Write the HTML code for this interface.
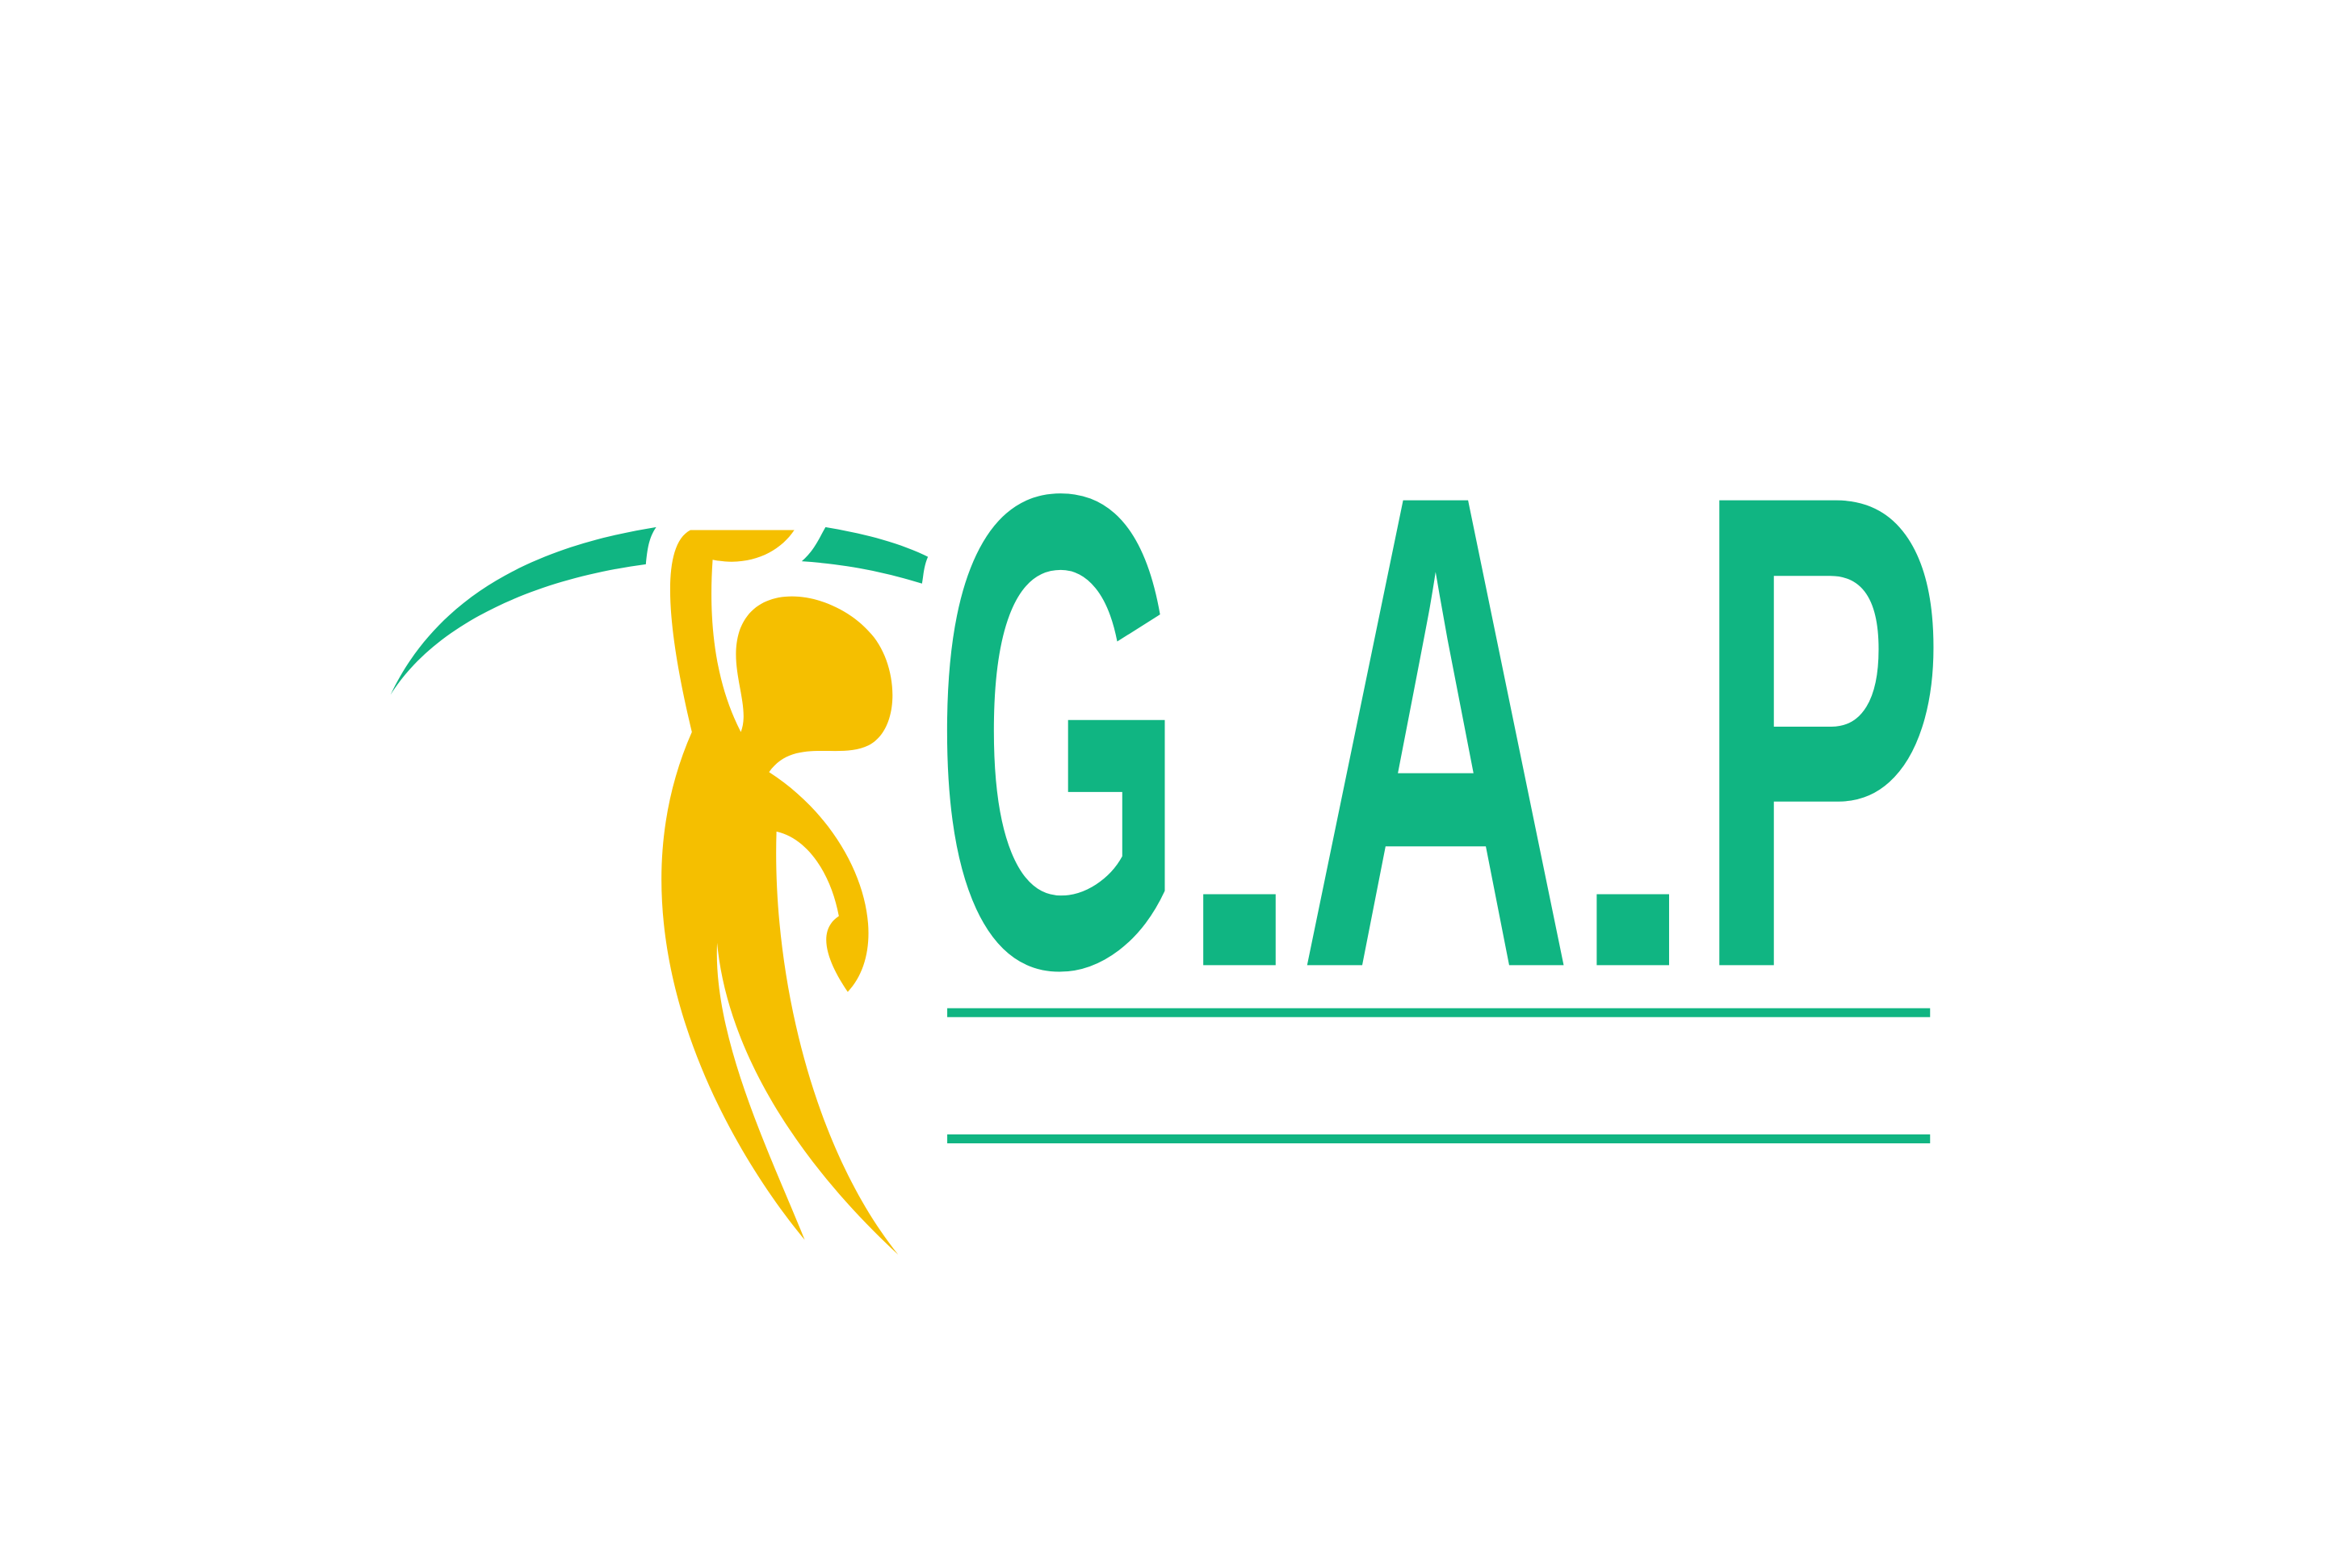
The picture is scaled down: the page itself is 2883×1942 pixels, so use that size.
<!DOCTYPE html>
<html><head><meta charset="utf-8"><style>
html,body{margin:0;padding:0;background:#fff;}
svg{display:block;}
</style></head><body>
<svg width="2883" height="1942" viewBox="0 0 1568 1056" preserveAspectRatio="none" xmlns="http://www.w3.org/2000/svg">
<rect width="1568" height="1056" fill="#fff"/>
<g fill="#10B582">
<path d="M263,468 C300,390 380,365 442,355 C437,362 436,370 435,380 C360,390 293,420 263,468 Z"/>
<path d="M556,355 C580,359 605,365 625,375 C622,382 622,388 621,393 C595,385 570,380 540,378 C548,371 551,364 556,355 Z"/>
</g>
<path fill="#F5BF00" d="M465,357 L535,357 C525,372 505,382 480,377 C477,420 482,460 499,493 C506,475 490,450 498,425 C510,390 560,398 585,425 C605,445 608,490 585,502 C565,512 535,496 518,520 C580,560 602,635 571,668 C560,652 548,628 565,617 C560,590 545,565 523,560 C520,650 545,770 605,845 C540,785 490,710 483,635 C480,700 520,780 542,835 C480,760 410,620 466,493 C455,447 440,370 465,357 Z"/>
<g font-family="'Liberation Sans',sans-serif" font-weight="bold" font-size="455" fill="#10B582">
<text x="629" y="650" textLength="169" lengthAdjust="spacingAndGlyphs">G</text>
<text x="787" y="650" textLength="96" lengthAdjust="spacingAndGlyphs" font-size="321">.</text>
<text x="874" y="650" textLength="186" lengthAdjust="spacingAndGlyphs">A</text>
<text x="1052" y="650" textLength="96" lengthAdjust="spacingAndGlyphs" font-size="321">.</text>
<text x="1141" y="650" textLength="170" lengthAdjust="spacingAndGlyphs">P</text>
</g>
<rect x="638" y="679" width="662" height="6" fill="#10B582"/>
<rect x="638" y="764" width="662" height="6" fill="#10B582"/>
</svg>
</body></html>
